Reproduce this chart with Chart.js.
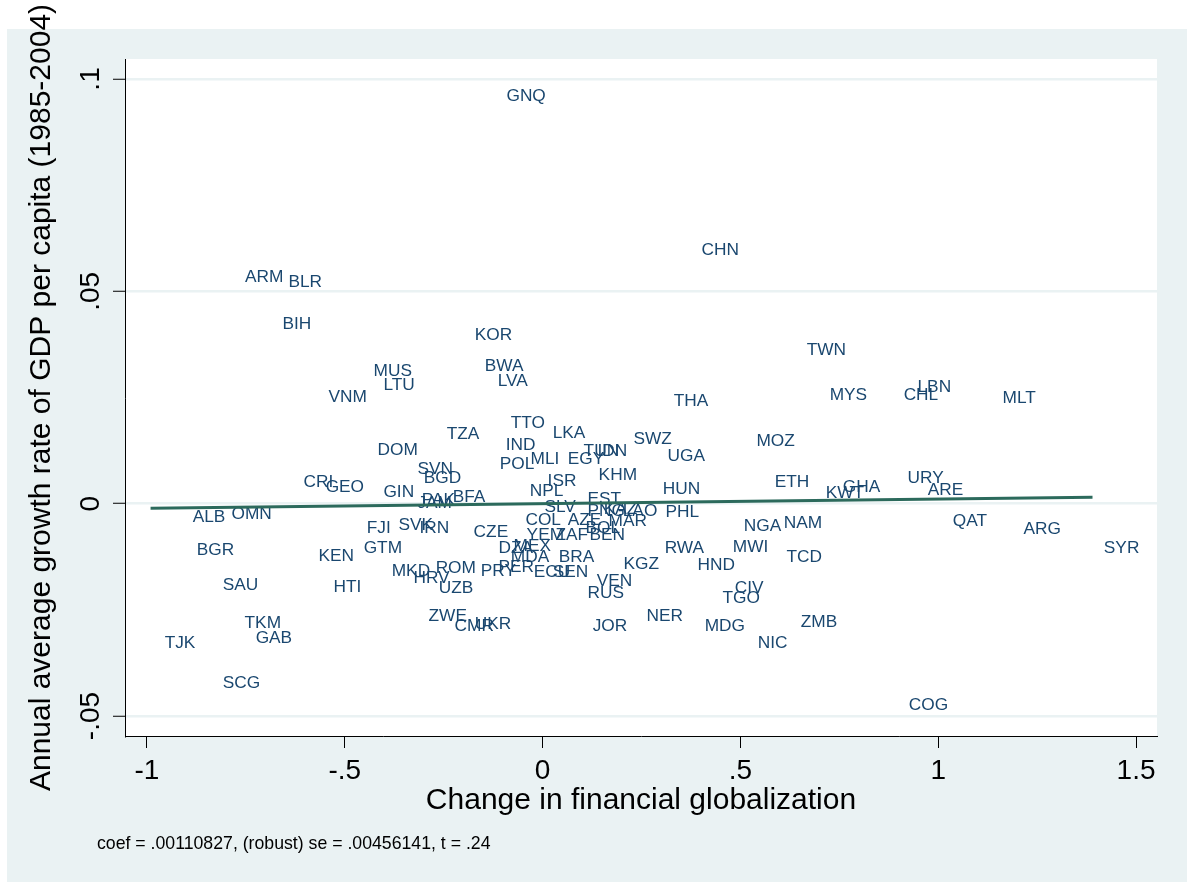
<!DOCTYPE html>
<html>
<head>
<meta charset="utf-8">
<script src="https://cdn.jsdelivr.net/npm/chart.js@4.4.1/dist/chart.umd.min.js"></script>
<style>
  html, body { margin: 0; padding: 0; background: #fff; }
  #wrap { width: 1187px; height: 882px; position: relative; }
</style>
</head>
<body>
<div id="wrap"><canvas id="chartGlob"></canvas></div>
<script>
// country codes, change in financial globalization, growth of GDP per capita 1985-2004
const countries = ['GNQ','CHN','ARM','BLR','BIH','KOR','MUS','LTU','BWA','LVA',
  'VNM','TWN','MYS','CHL','LBN','MLT','THA','TTO','LKA','TZA',
  'IND','SWZ','MOZ','DOM','TUN','IDN','UGA','MLI','POL','EGY',
  'SVN','KHM','BGD','ISR','URY','ETH','CRI','GEO','NPL','HUN',
  'GHA','ARE','KWT','GIN','BFA','EST','JAM','PAK','SLV','PNG',
  'KAZ','LAO','PHL','COL','AZE','MAR','BOL','BEN','YEM','ZAF',
  'CZE','FJI','SVK','IRN','QAT','ARG','SYR','NGA','NAM','DZA',
  'MEX','GTM','KEN','MDA','BRA','RWA','MWI','TCD','HND','KGZ',
  'ROM','MKD','HRV','PRY','PER','ECU','SEN','VEN','RUS','CIV',
  'TGO','SAU','HTI','UZB','ZWE','CMR','UKR','NER','JOR','MDG',
  'ZMB','NIC','TKM','GAB','TJK','SCG','COG','ALB','OMN','BGR'];

const finGlob = [-0.099, 0.394, -0.760, -0.650, -0.665, -0.179, -0.435, -0.410, -0.154, -0.121,
  -0.549, 0.660, 0.718, 0.905, 0.940, 1.155, 0.324, -0.088, 0.018, -0.250,
  -0.101, 0.222, 0.533, -0.425, 0.096, 0.131, 0.308, -0.038, -0.116, 0.056,
  -0.324, 0.134, -0.308, 0.005, 0.915, 0.579, -0.612, -0.556, -0.040, 0.296,
  0.751, 0.966, 0.708, -0.410, -0.235, 0.106, -0.324, -0.313, -0.003, 0.106,
  0.147, 0.195, 0.303, -0.051, 0.056, 0.159, 0.101, 0.111, -0.048, 0.025,
  -0.182, -0.452, -0.372, -0.319, 1.029, 1.208, 1.411, 0.501, 0.602, -0.119,
  -0.081, -0.460, -0.574, -0.088, 0.033, 0.301, 0.473, 0.609, 0.384, 0.197,
  -0.278, -0.389, -0.334, -0.164, -0.119, -0.030, 0.018, 0.129, 0.106, 0.478,
  0.447, -0.816, -0.536, -0.270, -0.296, -0.230, -0.179, 0.255, 0.119, 0.402,
  0.645, 0.536, -0.761, -0.733, -0.963, -0.816, 0.918, -0.892, -0.794, -0.882];

const growth = [0.0960, 0.0597, 0.0533, 0.0521, 0.0422, 0.0397, 0.0311, 0.0278, 0.0324, 0.0288,
  0.0250, 0.0361, 0.0256, 0.0255, 0.0274, 0.0248, 0.0241, 0.0189, 0.0167, 0.0164,
  0.0137, 0.0151, 0.0147, 0.0125, 0.0123, 0.0123, 0.0111, 0.0104, 0.0094, 0.0104,
  0.0080, 0.0068, 0.0061, 0.0053, 0.0059, 0.0050, 0.0050, 0.0038, 0.0029, 0.0034,
  0.0038, 0.0031, 0.0024, 0.0028, 0.0015, 0.0011, 0.0002, 0.0007, -0.0009, -0.0018,
  -0.0014, -0.0017, -0.0021, -0.0040, -0.0040, -0.0042, -0.0057, -0.0075, -0.0075, -0.0075,
  -0.0068, -0.0059, -0.0051, -0.0057, -0.0042, -0.0060, -0.0104, -0.0054, -0.0045, -0.0106,
  -0.0101, -0.0104, -0.0124, -0.0127, -0.0127, -0.0106, -0.0103, -0.0127, -0.0144, -0.0142,
  -0.0151, -0.0160, -0.0175, -0.0160, -0.0150, -0.0162, -0.0162, -0.0182, -0.0210, -0.0198,
  -0.0222, -0.0193, -0.0196, -0.0200, -0.0264, -0.0288, -0.0283, -0.0264, -0.0288, -0.0288,
  -0.0280, -0.0328, -0.0282, -0.0318, -0.0329, -0.0423, -0.0474, -0.0033, -0.0024, -0.0110];

// fitted line end points
const fitX = [-0.991, 1.390];
const fitY = [-0.0011, 0.0015];

const xTicks = [-1, -0.5, 0, 0.5, 1, 1.5];
const yTicks = [-0.05, 0, 0.05, 0.1];

const noteText = 'coef = .00110827, (robust) se = .00456141, t = .24';

const FONT = "'Liberation Sans', Arial, sans-serif";

// stata style numbers: .5 instead of 0.5
function fmt(v) {
  let s = String(v);
  if (s.startsWith('-0.')) s = '-' + s.slice(2);
  else if (s.startsWith('0.')) s = s.slice(1);
  return s;
}

const points = countries.map((c, i) => ({ x: finGlob[i], y: growth[i] }));
const fitLine = fitX.map((x, i) => ({ x: x, y: fitY[i] }));

const bgPlugin = {
  id: 'bg',
  beforeDraw(chart) {
    const ctx = chart.ctx;
    const a = chart.chartArea;
    ctx.save();
    ctx.fillStyle = '#ffffff';
    ctx.fillRect(0, 0, chart.width, chart.height);
    ctx.fillStyle = '#eaf2f3';
    ctx.fillRect(7, 29, chart.width - 7, chart.height - 29);
    ctx.fillStyle = '#ffffff';
    ctx.fillRect(a.left, a.top, a.right - a.left, a.bottom - a.top);
    ctx.restore();
  },
  afterDraw(chart) {
    const ctx = chart.ctx;
    ctx.save();
    ctx.fillStyle = '#000';
    ctx.font = "17.7px " + FONT;
    ctx.textBaseline = 'alphabetic';
    ctx.textAlign = 'left';
    ctx.fillText(noteText, 97, 849);
    ctx.restore();
  }
};

const labelPlugin = {
  id: 'mlabels',
  afterDatasetDraw(chart, args) {
    if (args.index !== 1) return;
    const ctx = chart.ctx;
    const meta = args.meta;
    ctx.save();
    ctx.fillStyle = '#1a476f';
    ctx.font = "17.3px " + FONT;
    ctx.textAlign = 'left';
    ctx.textBaseline = 'middle';
    meta.data.forEach((pt, i) => {
      ctx.fillText(countries[i], pt.x + 3, pt.y);
    });
    ctx.restore();
  }
};

const ctx1 = document.getElementById('chartGlob');

const data = {
  datasets: [
    {
      type: 'line',
      data: fitLine,
      borderColor: '#2c6a5c',
      borderWidth: 3,
      pointRadius: 0,
      fill: false
    },
    {
      type: 'scatter',
      data: points,
      pointRadius: 0,
      pointHoverRadius: 0
    }
  ]
};

const config1 = {
  type: 'scatter',
  data: data,
  options: {
    responsive: false,
    animation: false,
    events: [],
    layout: { padding: { top: 59, right: 30, left: 0, bottom: 0 } },
    plugins: {
      legend: { display: false },
      tooltip: { enabled: false }
    },
    scales: {
      x: {
        type: 'linear',
        min: -1.0556,
        max: 1.553,
        afterBuildTicks: s => { s.ticks = xTicks.map(v => ({ value: v })); },
        afterFit: s => { s.height = 146; },
        grid: { drawOnChartArea: false, tickLength: 12, tickColor: '#000', tickWidth: 1 },
        border: { color: '#000', width: 1 },
        ticks: {
          callback: v => fmt(v),
          color: '#000',
          font: { family: FONT, size: 28 },
          padding: 6,
          maxRotation: 0,
          autoSkip: false
        },
        title: {
          display: true,
          text: 'Change in financial globalization',
          color: '#000',
          font: { family: FONT, size: 30 },
          padding: { top: 0, bottom: 63 }
        }
      },
      y: {
        type: 'linear',
        min: -0.0547,
        max: 0.1047,
        afterBuildTicks: s => { s.ticks = yTicks.map(v => ({ value: v })); },
        afterFit: s => { s.width = 125; },
        grid: { color: '#eaf2f3', lineWidth: 2.5, tickLength: 12, tickColor: '#000', tickWidth: 1 },
        border: { color: '#000', width: 1 },
        ticks: {
          callback: v => fmt(v),
          color: '#000',
          font: { family: FONT, size: 28 },
          padding: -2,
          minRotation: 90,
          maxRotation: 90,
          crossAlign: 'center',
          autoSkip: false
        },
        title: {
          display: true,
          text: 'Annual average growth rate of GDP per capita (1985-2004)',
          color: '#000',
          font: { family: FONT, size: 30 },
          padding: { top: 24, bottom: 0 }
        }
      }
    }
  },
  plugins: [bgPlugin, labelPlugin]
};

const canvas = ctx1;
canvas.width = 1187;
canvas.height = 882;
new Chart(ctx1, config1);
</script>
</body>
</html>
